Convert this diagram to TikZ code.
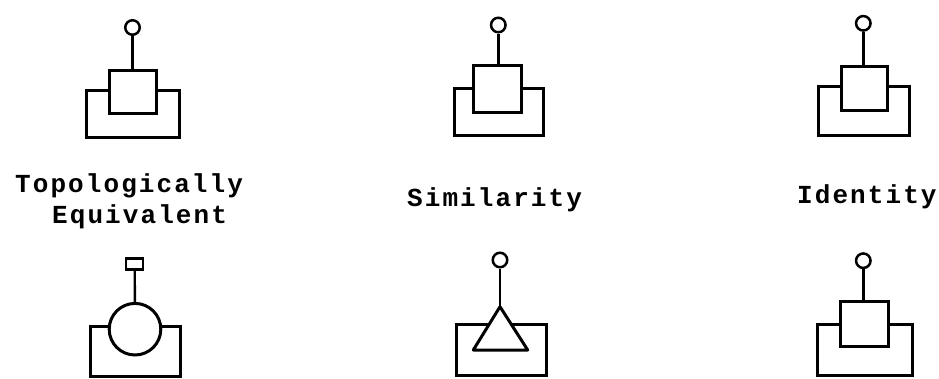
\documentclass[tikz,border=0pt]{standalone}
\usepackage{fontspec}
\usetikzlibrary{positioning}
\newfontfamily\typefont[LetterSpace=8]{Liberation Mono}
\newcommand{\capfont}{\typefont\bfseries\fontsize{26}{30}\selectfont}

\begin{document}
\begin{tikzpicture}[
  x=1pt, y=-1pt,
  every node/.style={font=\capfont},
  knob/.style={draw,circle,minimum size=14.5pt,inner sep=0pt,line width=2.5pt,fill=white},
  knobbox/.style={draw,rectangle,minimum width=17pt,minimum height=11pt,inner sep=0pt,line width=2.5pt,fill=white},
  body/.style={draw,rectangle,inner sep=0pt,line width=3pt,fill=white},
  disc/.style={draw,circle,minimum size=51.6pt,inner sep=0pt,line width=3pt,fill=white},
  base/.style={draw,rectangle,inner sep=0pt,line width=3pt},
  stem/.style={line width=2.4pt},
  lab/.style={font=\capfont,inner sep=0pt,anchor=base west}
]
\useasboundingbox (0,0) rectangle (939,378);

% top row
\node[base,minimum width=93pt,minimum height=47pt] (p1base) at (132.5,114.2) {};
\node[body,minimum width=47pt,minimum height=43pt] (p1body) at (132.5,91.5) {};
\node[knob] (p1knob) at (132.5,27.5) {};
\draw[stem] (p1knob) -- (p1body);

\node[base,minimum width=89pt,minimum height=46.3pt] (p2base) at (498.7,111.9) {};
\node[body,minimum width=47.7pt,minimum height=46.7pt] (p2body) at (497.2,89.3) {};
\node[knob] (p2knob) at (498.3,25) {};
\draw[stem] (p2knob) -- (p2knob |- p2body.north);

\node[base,minimum width=91pt,minimum height=48.3pt] (p3base) at (863.5,110.9) {};
\node[body,minimum width=46pt,minimum height=44pt] (p3body) at (864.3,88) {};
\node[knob] (p3knob) at (863.3,23.3) {};
\draw[stem] (p3knob) -- (p3knob |- p3body.north);

% captions
\node[lab] (topo1) at (15,192.7) {Topologically};
\node[lab] (topo2) at (52,223) {Equivalent};
\node[lab] (simil) at (407,206.7) {Similarity};
\node[lab] (ident) at (797,203.3) {Identity};

% bottom row
\node[base,minimum width=90pt,minimum height=50.3pt] (p4base) at (135,351.8) {};
\node[disc] (p4disc) at (135,329.2) {};
\node[knobbox] (p4knob) at (134.7,263.8) {};
\draw[stem] (p4knob) -- (p4disc);

\node[base,minimum width=90pt,minimum height=51pt] (p5base) at (501,349.5) {};
\coordinate (p5apex) at (500,306.7);
\coordinate (p5left) at (473.3,350);
\coordinate (p5right) at (527.7,350);
\draw[line width=3pt,fill=white,line join=round] (p5apex) -- (p5left) -- (p5right) -- cycle;
\node[knob] (p5knob) at (500,260) {};
\draw[stem] (p5knob) -- (p5apex);

\node[base,minimum width=94.7pt,minimum height=50.7pt] (p6base) at (865.3,349.7) {};
\node[body,minimum width=47.6pt,minimum height=45pt] (p6body) at (864.5,324.2) {};
\node[knob] (p6knob) at (863.3,260.7) {};
\draw[stem] (p6knob) -- (p6knob |- p6body.north);

\end{tikzpicture}
\end{document}
